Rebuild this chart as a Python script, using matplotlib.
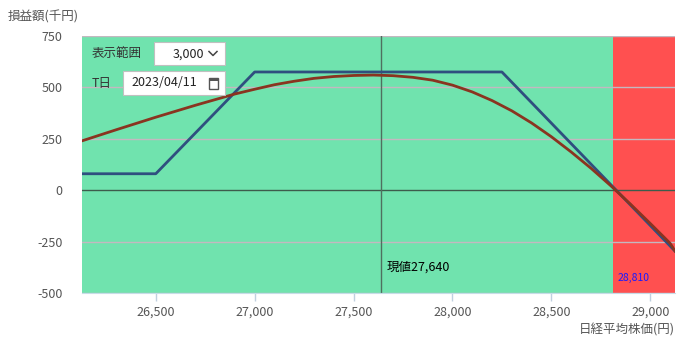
import matplotlib
matplotlib.use("Agg")
import matplotlib.pyplot as plt
from matplotlib.patches import Rectangle

plt.rcParams['font.family'] = ['Noto Sans CJK JP', 'DejaVu Sans']

# ---- data ----
current_price = 27640
break_even = 28810
x_min, x_max = 26127, 29125
y_ticks = [-500, -250, 0, 250, 500, 750]
x_ticks = [26500, 27000, 27500, 28000, 28500, 29000]

expiry_x = [26127, 26500, 27000, 28250, 29125]
expiry_y = [80, 80, 575, 575, -296]

tday_x = [26127, 26300, 26500, 26700, 26900, 27000, 27100, 27200, 27300, 27400,
          27500, 27600, 27700, 27800, 27900, 28000, 28100, 28200, 28300, 28400,
          28500, 28600, 28700, 28800, 28900, 29000, 29100, 29125]
tday_y = [240, 294, 355, 413, 468, 491, 513, 530, 544, 553,
          558, 560, 557, 549, 535, 511, 478, 436, 386, 327,
          260, 186, 107, 22, -68, -162, -258, -296]

range_label = "3,000"
date_label = "2023/04/11"

W, H = 686, 353
fig = plt.figure(figsize=(W / 100, H / 100), dpi=100)
L, R, T, B = 82, 675, 36, 293
ax = fig.add_axes([L / W, 1 - B / H, (R - L) / W, (B - T) / H])

green = '#70E3AE'
red = '#FF5050'
ax.axvspan(x_min, break_even, color=green, zorder=0, lw=0)
ax.axvspan(break_even, x_max, color=red, zorder=0, lw=0)

for yv in y_ticks:
    if yv == 0:
        continue
    ax.axhline(yv, color='#c4b8c0', lw=1.0, zorder=1)
ax.axhline(0, color='#3d5c4c', lw=1.0, zorder=2)
ax.axvline(current_price, color='#4f6f5f', lw=1.0, zorder=2)

ax.plot(expiry_x, expiry_y, color='#2f4f7f', lw=2, zorder=4)
ax.plot(tday_x, tday_y, color='#8a3420', lw=2, zorder=5)

ax.set_xlim(x_min, x_max)
ax.set_ylim(-500, 750)
ax.set_xticks(x_ticks)
ax.set_xticklabels([f"{v:,}" for v in x_ticks])
ax.set_yticks(y_ticks)
ax.set_yticklabels([str(v) for v in y_ticks])
ax.tick_params(axis='x', colors='#c0d0e0', length=6, width=1, labelcolor='#555555',
               labelsize=9, pad=3)
ax.tick_params(axis='y', length=0, labelcolor='#555555', labelsize=9, pad=14)
for s in ['left', 'right', 'top']:
    ax.spines[s].set_visible(False)
ax.spines['bottom'].set_color('#c8dce8')

ax.text(current_price + 25, -376, f"現値{current_price:,}", fontsize=9, color='black',
        va='center', ha='left', zorder=6)
ax.text(break_even + 25, -428, f"{break_even:,}", fontsize=7.5, color='#1a1aff',
        va='center', ha='left', zorder=6)

# axis titles
fig.text(8 / W, 1 - 17 / H, "損益額(千円)", fontsize=9, color='#555555', va='center', ha='left')
fig.text(675 / W, 1 - 330 / H, "日経平均株価(円)", fontsize=9, color='#555555', va='center', ha='right')

# UI controls
def fbox(x0, y0, x1, y1):
    fig.patches.append(Rectangle((x0 / W, 1 - y1 / H), (x1 - x0) / W, (y1 - y0) / H,
                                 transform=fig.transFigure, facecolor='white',
                                 edgecolor='#c0c0c0', lw=0.8, zorder=10))

fig.text(92 / W, 1 - 54 / H, "表示範囲", fontsize=9, color='#333333', va='center', ha='left', zorder=11)
fbox(154, 42, 225, 65)
fig.text(204 / W, 1 - 54 / H, range_label, fontsize=9, color='#222222', va='center', ha='right', zorder=11)
fig.lines.append(plt.Line2D([209 / W, 213 / W, 217 / W], [1 - 51.5 / H, 1 - 55.5 / H, 1 - 51.5 / H],
                            transform=fig.transFigure, color='#444444', lw=1.1, zorder=11))

fig.text(92 / W, 1 - 83 / H, "T日", fontsize=9, color='#333333', va='center', ha='left', zorder=11)
fbox(123, 71, 225, 95)
fig.text(131 / W, 1 - 83 / H, date_label, fontsize=9, color='#222222', va='center', ha='left', zorder=11)
fig.patches.append(Rectangle((209 / W, 1 - 89 / H), 9 / W, 11 / H, transform=fig.transFigure,
                             facecolor='none', edgecolor='#555555', lw=1.0, zorder=11))
fig.patches.append(Rectangle((209 / W, 1 - 81 / H), 9 / W, 3 / H, transform=fig.transFigure,
                             facecolor='#555555', edgecolor='none', zorder=11))

fig.savefig("out.png", dpi=100)
